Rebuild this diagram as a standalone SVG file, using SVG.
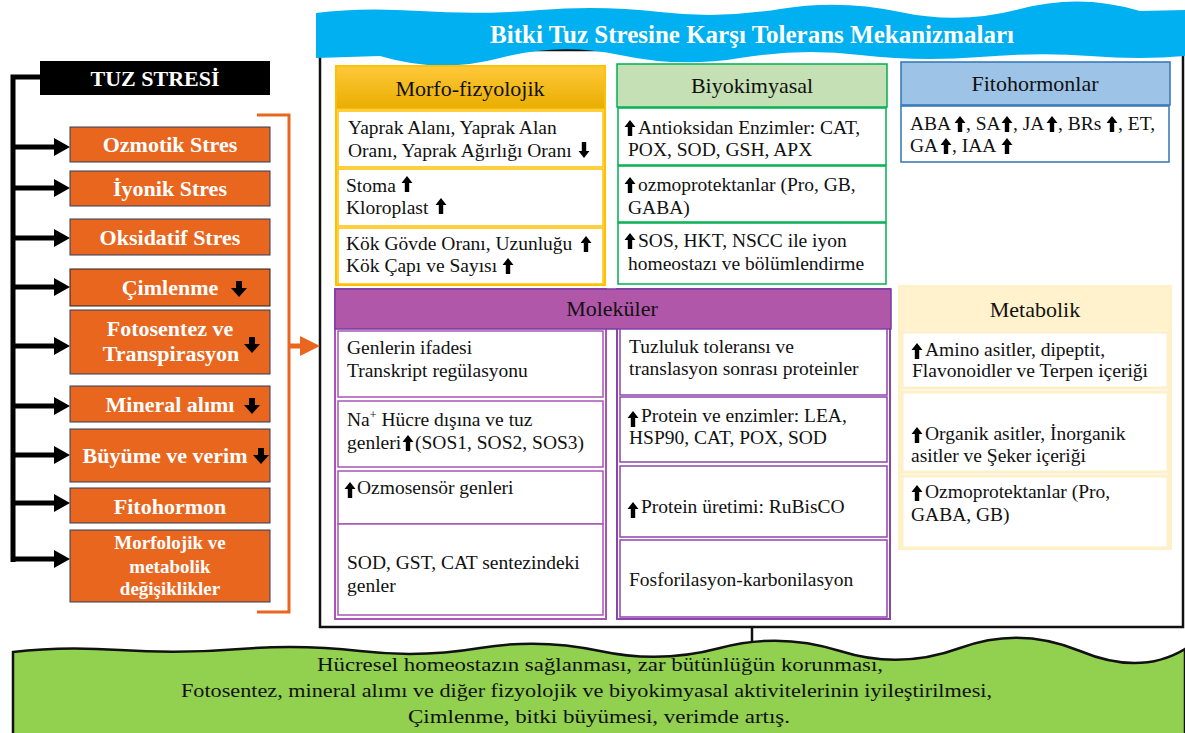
<svg xmlns="http://www.w3.org/2000/svg" width="1185" height="733" viewBox="0 0 1185 733" font-family="'Liberation Serif', 'DejaVu Serif', serif">
<style>
text{font-family:'Liberation Serif','DejaVu Serif',serif;}
.bt{font-size:19.5px;fill:#111;}
.ht{font-size:22px;fill:#111;text-anchor:middle;}
.ot{font-size:22px;font-weight:bold;fill:#fff;text-anchor:middle;}
.ob{fill:#E9661F;stroke:#2F3C5A;stroke-width:1;}
.mc{fill:#fff;stroke:#FFC000;stroke-width:1.5;}
.gc{fill:#fff;stroke:#00B050;stroke-width:1.5;}
.pc{fill:#fff;stroke:#A855B5;stroke-width:1.5;}
.yc{fill:#fff;stroke:#FFF0C8;stroke-width:3;}
.blk{stroke:#000;stroke-width:5;fill:none;}
</style>
<defs>
<linearGradient id="gold" x1="0" y1="0" x2="0" y2="1">
<stop offset="0" stop-color="#FFC83A"/><stop offset="1" stop-color="#E8AE00"/>
</linearGradient>
<path id="up" d="M5,0 L10.5,7 L7.2,7 L7.2,16 L2.8,16 L2.8,7 L-0.5,7 Z" fill="#000"/>
<path id="dn" d="M2.8,0 L7.2,0 L7.2,9 L10.5,9 L5,16 L-0.5,9 L2.8,9 Z" fill="#000"/>
<path id="dnb" d="M5,0 H11 V7 H16 L8,16 L0,7 H5 Z" fill="#000"/>
<marker id="ah" markerWidth="16" markerHeight="18" refX="2" refY="9" orient="auto" markerUnits="userSpaceOnUse">
<path d="M0,0 L16,9 L0,18 Z" fill="#000"/>
</marker>
<marker id="oh" markerWidth="20" markerHeight="20" refX="2" refY="10" orient="auto" markerUnits="userSpaceOnUse">
<path d="M0,0 L20,10 L0,20 Z" fill="#E9661F"/>
</marker>
</defs>
<rect width="1185" height="733" fill="#fff"/>

<g id="frame">
<rect x="320" y="50" width="863" height="577" fill="#fff" stroke="#111" stroke-width="2.5"/>
</g>

<g id="banner">
<path d="M316,13 Q360,7 420,11 T540,10 T660,12 T780,9 T900,12 T1020,9 T1140,11 L1185,10 L1185,56 Q1140,60 1090,56 T980,57 T860,55 T740,58 T620,55 T500,58 T380,56 L316,58 Z" fill="#00B0F0"/>
<text x="752" y="43" font-size="25" font-weight="bold" fill="#fff" text-anchor="middle">Bitki Tuz Stresine Karşı Tolerans Mekanizmaları</text>
</g>

<g id="connectors">
<path class="blk" d="M40,77 H13 V562"/>
<line class="blk" x1="11" y1="147" x2="56" y2="147" marker-end="url(#ah)"/>
<line class="blk" x1="11" y1="188" x2="56" y2="188" marker-end="url(#ah)"/>
<line class="blk" x1="11" y1="238" x2="56" y2="238" marker-end="url(#ah)"/>
<line class="blk" x1="11" y1="287" x2="56" y2="287" marker-end="url(#ah)"/>
<line class="blk" x1="11" y1="346" x2="56" y2="346" marker-end="url(#ah)"/>
<line class="blk" x1="11" y1="406" x2="56" y2="406" marker-end="url(#ah)"/>
<line class="blk" x1="11" y1="455" x2="56" y2="455" marker-end="url(#ah)"/>
<line class="blk" x1="11" y1="503" x2="56" y2="503" marker-end="url(#ah)"/>
<line class="blk" x1="11" y1="559" x2="56" y2="559" marker-end="url(#ah)"/>
<path d="M257,115 H289 V612 H257" fill="none" stroke="#E9661F" stroke-width="3"/>
<line x1="289" y1="346" x2="302" y2="346" stroke="#E9661F" stroke-width="5" marker-end="url(#oh)"/>
<line x1="752" y1="627" x2="752" y2="651" stroke="#111" stroke-width="2.5"/>
</g>

<g id="tuz-stresi">
<rect x="40" y="61" width="230" height="34" fill="#000"/>
<text x="155" y="86" font-size="22" font-weight="bold" fill="#fff" text-anchor="middle">TUZ STRESİ</text>
</g>
<g id="ozmotik"><rect class="ob" x="70" y="127" width="200" height="35"/><text class="ot" x="170" y="152">Ozmotik Stres</text></g>
<g id="iyonik"><rect class="ob" x="70" y="171" width="200" height="35"/><text class="ot" x="170" y="196">İyonik Stres</text></g>
<g id="oksidatif"><rect class="ob" x="70" y="219" width="200" height="36"/><text class="ot" x="170" y="245">Oksidatif Stres</text></g>
<g id="cimlenme"><rect class="ob" x="70" y="269" width="200" height="37" style="stroke:#222"/><text class="ot" x="170" y="295">Çimlenme</text><use href="#dnb" x="231" y="281"/></g>
<g id="fotosentez"><rect class="ob" x="70" y="310" width="200" height="64"/><text class="ot" x="170" y="336">Fotosentez ve</text><text class="ot" x="171" y="361">Transpirasyon</text><use href="#dnb" x="244" y="337"/></g>
<g id="mineral"><rect class="ob" x="70" y="386" width="200" height="36"/><text class="ot" x="170" y="412">Mineral alımı</text><use href="#dnb" x="244" y="398"/></g>
<g id="buyume"><rect class="ob" x="70" y="429" width="200" height="53"/><text class="ot" x="165" y="463">Büyüme ve verim</text><use href="#dnb" x="253" y="448"/></g>
<g id="fitohormon"><rect class="ob" x="70" y="488" width="200" height="35"/><text class="ot" x="170" y="514">Fitohormon</text></g>
<g id="morfolojik"><rect class="ob" x="70" y="530" width="200" height="72"/>
<text class="ot" x="170" y="549" style="font-size:19px">Morfolojik ve</text>
<text class="ot" x="170" y="573" style="font-size:19px">metabolik</text>
<text class="ot" x="170" y="595" style="font-size:19px">değişiklikler</text></g>

<g id="morfo-fizyolojik">
<rect x="336" y="66" width="269" height="219" fill="#fff" stroke="#FFC000" stroke-width="2"/>
<rect x="336" y="66" width="269" height="43" fill="url(#gold)" stroke="#FFC000" stroke-width="1.5"/>
<text class="ht" x="470" y="96">Morfo-fizyolojik</text>
<rect class="mc" x="338" y="111" width="265" height="56"/>
<rect class="mc" x="338" y="169" width="265" height="57"/>
<rect class="mc" x="338" y="228" width="265" height="56"/>
<text class="bt" x="348" y="134">Yaprak Alanı, Yaprak Alan</text>
<text class="bt" x="348" y="157">Oranı, Yaprak Ağırlığı Oranı</text>
<use href="#dn" x="579" y="142"/>
<text class="bt" x="346" y="192">Stoma</text><use href="#up" x="402" y="176"/>
<text class="bt" x="346" y="214">Kloroplast</text><use href="#up" x="436" y="198"/>
<text class="bt" x="346" y="250">Kök Gövde Oranı, Uzunluğu</text><use href="#up" x="581" y="236"/>
<text class="bt" x="346" y="272">Kök Çapı ve Sayısı</text><use href="#up" x="503" y="258"/>
</g>

<g id="biyokimyasal">
<rect x="617" y="64" width="270" height="43" fill="#C5E0B4" stroke="#00B050" stroke-width="1.5"/>
<text class="ht" x="752" y="93">Biyokimyasal</text>
<rect class="gc" x="618" y="108" width="268" height="57"/>
<rect class="gc" x="618" y="166" width="268" height="56"/>
<rect class="gc" x="618" y="223" width="268" height="61"/>
<use href="#up" x="625" y="120"/>
<text class="bt" x="638" y="134">Antioksidan Enzimler: CAT,</text>
<text class="bt" x="628" y="156">POX, SOD, GSH, APX</text>
<use href="#up" x="625" y="177"/>
<text class="bt" x="638" y="191">ozmoprotektanlar (Pro, GB,</text>
<text class="bt" x="628" y="214">GABA)</text>
<use href="#up" x="625" y="233"/>
<text class="bt" x="638" y="247">SOS, HKT, NSCC ile iyon</text>
<text class="bt" x="628" y="270">homeostazı ve bölümlendirme</text>
</g>

<g id="fitohormonlar">
<rect x="901" y="62" width="269" height="43" fill="#9DC3E6" stroke="#2E75B6" stroke-width="1.5"/>
<text class="ht" x="1035" y="91">Fitohormonlar</text>
<rect x="901" y="106" width="268" height="56" fill="#fff" stroke="#2E75B6" stroke-width="1.5"/>
<text class="bt" y="130"><tspan x="910">ABA</tspan><tspan x="966">, SA</tspan><tspan x="1013">, JA</tspan><tspan x="1058">, BRs</tspan><tspan x="1118">, ET,</tspan></text>
<use href="#up" x="955" y="116"/><use href="#up" x="1002" y="116"/><use href="#up" x="1047" y="116"/><use href="#up" x="1107" y="116"/>
<text class="bt" y="152"><tspan x="910">GA</tspan><tspan x="952">, IAA</tspan></text>
<use href="#up" x="941" y="138"/><use href="#up" x="1002" y="138"/>
</g>

<g id="molekuler">
<rect x="335" y="289" width="271" height="330" fill="#fff" stroke="#A855B5" stroke-width="2"/>
<rect x="617" y="289" width="273" height="330" fill="#fff" stroke="#8E44AD" stroke-width="2"/>
<rect x="335" y="289" width="556" height="40" fill="#B157A9" stroke="#7A3C9E" stroke-width="1.5"/>
<text class="ht" x="612" y="316">Moleküler</text>
<rect class="pc" x="338" y="331" width="265" height="66"/>
<rect class="pc" x="338" y="401" width="265" height="66"/>
<rect class="pc" x="338" y="471" width="265" height="53"/>
<rect class="pc" x="338" y="524" width="265" height="91"/>
<rect class="pc" x="620" y="329" width="267" height="66" style="stroke:#8E44AD"/>
<rect class="pc" x="620" y="397" width="267" height="65" style="stroke:#8E44AD"/>
<rect class="pc" x="620" y="466" width="267" height="71" style="stroke:#8E44AD"/>
<rect class="pc" x="620" y="540" width="267" height="77" style="stroke:#8E44AD"/>
<text class="bt" x="347" y="354">Genlerin ifadesi</text>
<text class="bt" x="347" y="377">Transkript regülasyonu</text>
<text class="bt" x="347" y="426">Na<tspan dy="-7" font-size="12">+</tspan><tspan dy="7"> Hücre dışına ve tuz</tspan></text>
<text class="bt" x="347" y="449">genleri</text><use href="#up" x="403" y="435"/>
<text class="bt" x="415" y="449">(SOS1, SOS2, SOS3)</text>
<use href="#up" x="345" y="482"/>
<text class="bt" x="357" y="494">Ozmosensör genleri</text>
<text class="bt" x="347" y="569">SOD, GST, CAT sentezindeki</text>
<text class="bt" x="347" y="592">genler</text>
<text class="bt" x="629" y="353">Tuzluluk toleransı ve</text>
<text class="bt" x="629" y="375">translasyon sonrası proteinler</text>
<use href="#up" x="628" y="411"/>
<text class="bt" x="641" y="422">Protein ve enzimler: LEA,</text>
<text class="bt" x="629" y="444">HSP90, CAT, POX, SOD</text>
<use href="#up" x="628" y="502"/>
<text class="bt" x="641" y="513">Protein üretimi: RuBisCO</text>
<text class="bt" x="629" y="586">Fosforilasyon-karbonilasyon</text>
</g>

<g id="metabolik">
<rect x="900" y="287" width="270" height="261" fill="#fff" stroke="#FFF0C8" stroke-width="4"/>
<rect x="900" y="287" width="270" height="43" fill="#FFF2CC"/>
<text class="ht" x="1035" y="317">Metabolik</text>
<rect class="yc" x="902" y="332" width="266" height="56"/>
<rect class="yc" x="902" y="392" width="266" height="80"/>
<rect class="yc" x="902" y="476" width="266" height="72"/>
<use href="#up" x="912" y="343"/>
<text class="bt" x="925" y="356">Amino asitler, dipeptit,</text>
<text class="bt" x="912" y="377">Flavonoidler ve Terpen içeriği</text>
<use href="#up" x="912" y="427"/>
<text class="bt" x="925" y="440">Organik asitler, İnorganik</text>
<text class="bt" x="911" y="462">asitler ve Şeker içeriği</text>
<use href="#up" x="912" y="485"/>
<text class="bt" x="925" y="498">Ozmoprotektanlar (Pro,</text>
<text class="bt" x="911" y="521">GABA, GB)</text>
</g>

<g id="sonuc">
<path d="M13,652 Q60,646 120,650 T240,649 T360,651 T480,648 T600,651 T720,648 T840,651 T960,648 T1080,651 T1185,649 L1185,735 L13,735 Z" fill="#92D050" stroke="#111" stroke-width="2.5"/>
<text x="317" y="671" font-size="19.5" fill="#111" textLength="566" lengthAdjust="spacingAndGlyphs">Hücresel homeostazın sağlanması, zar bütünlüğün korunması,</text>
<text x="181" y="697" font-size="19.5" fill="#111" textLength="811" lengthAdjust="spacingAndGlyphs">Fotosentez, mineral alımı ve diğer fizyolojik ve biyokimyasal aktivitelerinin iyileştirilmesi,</text>
<text x="408" y="723" font-size="19.5" fill="#111" textLength="382" lengthAdjust="spacingAndGlyphs">Çimlenme, bitki büyümesi, verimde artış.</text>
</g>
</svg>
